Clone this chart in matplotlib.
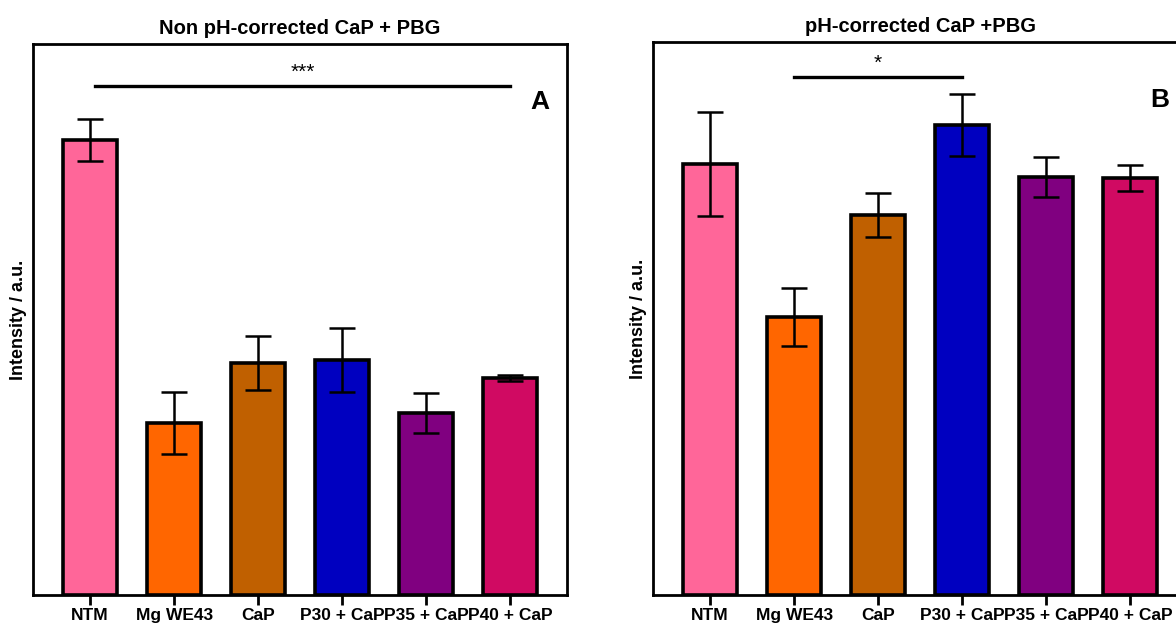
import matplotlib
matplotlib.use("Agg")
import matplotlib.pyplot as plt
import numpy as np

plt.rcParams['font.family'] = ['Liberation Sans', 'DejaVu Sans']
plt.rcParams['font.weight'] = 'bold'

categories = ["NTM", "Mg WE43", "CaP", "P30 + CaP", "P35 + CaP", "P40 + CaP"]
colors = ["#FF6699", "#FF6600", "#C06000", "#0000C0", "#800080", "#D00A62"]

# Panel A: non pH-corrected CaP + PBG
vals_a = [4.55, 1.72, 2.32, 2.35, 1.82, 2.17]
err_a = [0.21, 0.31, 0.27, 0.32, 0.20, 0.03]

# Panel B: pH-corrected CaP + PBG
vals_b = [4.31, 2.78, 3.80, 4.70, 4.18, 4.17]
err_b = [0.52, 0.29, 0.22, 0.31, 0.20, 0.13]

fig = plt.figure(figsize=(11.76, 6.23), dpi=100)
ax_a = fig.add_axes([0.0281, 0.0449, 0.4541, 0.8845])
ax_b = fig.add_axes([0.5553, 0.0449, 0.4541, 0.8877])


def draw_panel(ax, vals, errs, title, letter, ymax, sig_span, sig_y, sig_text):
    x = np.arange(len(categories))
    ax.bar(x, vals, width=0.65, color=colors, edgecolor="black",
           linewidth=2.6, zorder=2)
    ax.errorbar(x, vals, yerr=errs, fmt="none", ecolor="black",
                elinewidth=1.8, capsize=9.5, capthick=1.8, zorder=3)
    ax.set_xlim(-0.68, 5.68)
    ax.set_ylim(0, ymax)
    ax.set_xticks(x)
    ax.set_xticklabels(categories, fontsize=12.5, fontweight="bold")
    ax.tick_params(axis="x", length=7, width=2, pad=2)
    ax.set_yticks([])
    for s in ax.spines.values():
        s.set_linewidth(2)
    ax.set_title(title, fontsize=14.5, fontweight="bold", pad=7)
    ax.set_ylabel("Intensity / a.u.", fontsize=13, fontweight="bold", labelpad=4)
    ax.text(5.35, ymax - 0.58, letter, fontsize=19, fontweight="bold",
            ha="center", va="center")
    ax.plot(sig_span, [sig_y, sig_y], color="black", linewidth=2.4)
    ax.text(np.mean(sig_span), sig_y + 0.04, sig_text, ha="center",
            va="bottom", fontsize=15, fontweight="normal")


draw_panel(ax_a, vals_a, err_a, "Non pH-corrected CaP + PBG", "A",
           5.51, [0.06, 5.0], 5.09, "***")
draw_panel(ax_b, vals_b, err_b, "pH-corrected CaP +PBG", "B",
           5.53, [1.0, 3.0], 5.18, "*")

fig.savefig("out.png", dpi=100)
